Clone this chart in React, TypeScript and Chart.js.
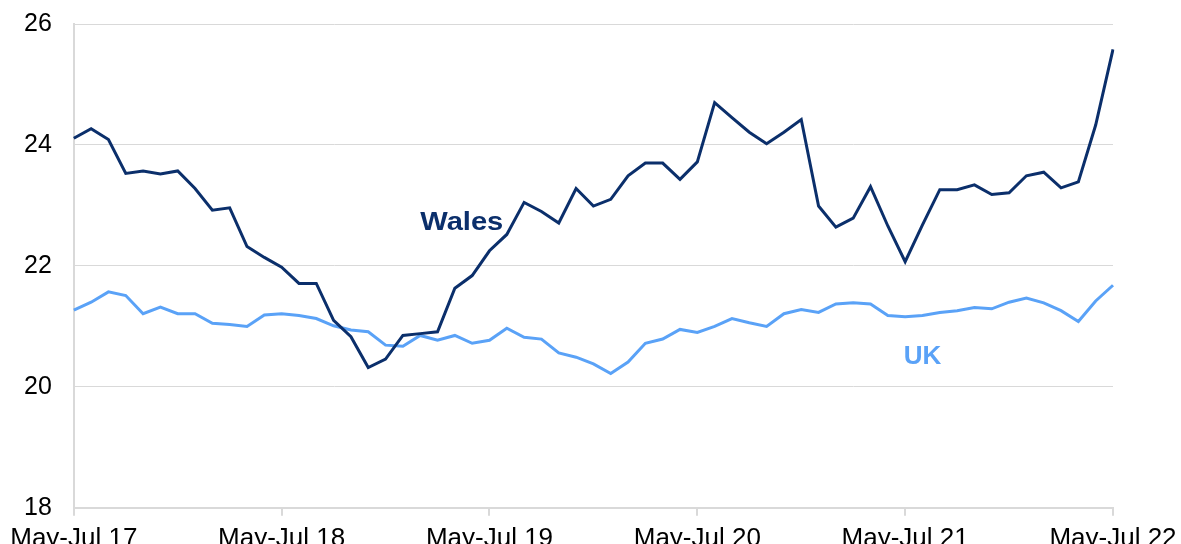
import React, { useEffect, useRef } from "react";
import { Chart, registerables } from "chart.js";

Chart.register(...registerables);

const years = ["17", "18", "19", "20", "21", "22"];
const categories: string[] = [];
for (let i = 0; i <= 60; i++) {
  categories.push("May-Jul " + years[Math.floor(i / 12)]);
}

const walesValues = [
  24.11, 24.27, 24.09, 23.53, 23.57, 23.52, 23.57, 23.28, 22.92, 22.96, 22.32, 22.14,
  21.98, 21.71, 21.71, 21.1, 20.83, 20.32, 20.46, 20.85, 20.88, 20.91, 21.63, 21.84,
  22.25, 22.52, 23.05, 22.9, 22.71, 23.28, 22.99, 23.1, 23.49, 23.7, 23.7, 23.43,
  23.72, 24.7, 24.45, 24.21, 24.02, 24.21, 24.42, 22.99, 22.64, 22.79, 23.31, 22.66,
  22.07, 22.68, 23.26, 23.26, 23.34, 23.18, 23.21, 23.49, 23.55, 23.29, 23.39, 24.33,
  25.58,
];

const ukValues = [
  21.27, 21.4, 21.57, 21.51, 21.21, 21.32, 21.21, 21.21, 21.05, 21.03, 21.0, 21.19,
  21.21, 21.18, 21.13, 21.01, 20.94, 20.91, 20.69, 20.67, 20.85, 20.77, 20.85, 20.72,
  20.77, 20.97, 20.82, 20.79, 20.56, 20.49, 20.38, 20.22, 20.41, 20.72, 20.79, 20.95,
  20.9, 21.0, 21.13, 21.06, 21.0, 21.21, 21.28, 21.23, 21.37, 21.39, 21.37, 21.18,
  21.16, 21.18, 21.23, 21.26, 21.31, 21.29, 21.4, 21.47, 21.39, 21.26, 21.08, 21.42,
  21.68,
];

const yTicks = [18, 20, 22, 24, 26];

const seriesNames = ["Wales", "UK"];
const seriesColors = ["#0b2f6b", "#5aa2f7"];
// label anchor positions in data space (category index, value)
const labelIndex = [22.4, 49.0];
const labelValue = [22.72, 20.49];
const labelStretch = [1.12, 1.0];

const FONT = "'Liberation Sans', Arial, sans-serif";

export default function App() {
  const ref = useRef<HTMLCanvasElement | null>(null);

  useEffect(() => {
    if (!ref.current) return;
    const labelPlugin = {
      id: "seriesLabels",
      afterDatasetsDraw(chart: any) {
        const ctx = chart.ctx;
        const xs = chart.scales.x;
        const ys = chart.scales.y;
        seriesNames.forEach((n, i) => {
          const px = xs.getPixelForValue(labelIndex[i]);
          const py = ys.getPixelForValue(labelValue[i]);
          ctx.save();
          ctx.font = "bold 26px " + FONT;
          ctx.textAlign = "center";
          ctx.textBaseline = "middle";
          ctx.translate(px, py);
          ctx.scale(labelStretch[i], 1);
          ctx.fillStyle = seriesColors[i];
          ctx.fillText(n, 0, 0);
          ctx.restore();
        });
      },
    };

    const chart = new Chart(ref.current, {
      type: "line",
      data: {
        labels: categories,
        datasets: [
          {
            label: seriesNames[0],
            data: walesValues,
            borderColor: seriesColors[0],
            borderWidth: 3,
            pointRadius: 0,
            tension: 0,
            fill: false,
          },
          {
            label: seriesNames[1],
            data: ukValues,
            borderColor: seriesColors[1],
            borderWidth: 3,
            pointRadius: 0,
            tension: 0,
            fill: false,
          },
        ],
      },
      options: {
        animation: false,
        responsive: false,
        maintainAspectRatio: false,
        layout: { padding: { left: 2, right: 0, top: 0, bottom: 0 } },
        plugins: {
          legend: { display: false },
          tooltip: { enabled: false },
        },
        scales: {
          x: {
            type: "category",
            offset: false,
            afterFit: (s: any) => {
              s.paddingLeft = 0;
              s.paddingRight = 68;
            },
            grid: {
              drawOnChartArea: false,
              drawTicks: true,
              tickLength: 8,
              lineWidth: 2,
              color: (c: any) => (c.index % 12 === 0 ? "#d9d9d9" : "rgba(0,0,0,0)"),
            },
            border: { display: true, color: "#d9d9d9", width: 2 },
            ticks: {
              autoSkip: false,
              maxRotation: 0,
              minRotation: 0,
              padding: 7,
              color: "#000",
              font: { family: FONT, size: 26 },
              callback: function (this: any, val: any, idx: number) {
                return idx % 12 === 0 ? categories[idx] : "";
              },
            },
          },
          y: {
            min: yTicks[0],
            max: yTicks[yTicks.length - 1],
            afterBuildTicks: (axis: any) => {
              axis.ticks = yTicks.map((v) => ({ value: v }));
            },
            afterFit: (s: any) => {
              s.paddingTop = 24;
              s.paddingBottom = 0;
            },
            grid: {
              drawTicks: false,
              color: "#d9d9d9",
              lineWidth: 1,
            },
            border: { display: true, color: "#d9d9d9", width: 2 },
            ticks: {
              padding: 22,
              color: "#000",
              font: { family: FONT, size: 25 },
            },
          },
        },
      },
      plugins: [labelPlugin],
    });
    return () => chart.destroy();
  }, []);

  return (
    <div
      style={{
        position: "fixed",
        left: 0,
        top: 0,
        width: 1181,
        height: 544,
        overflow: "hidden",
        background: "#fff",
      }}
    >
      <canvas ref={ref} width={1181} height={561} style={{ display: "block" }} />
    </div>
  );
}
